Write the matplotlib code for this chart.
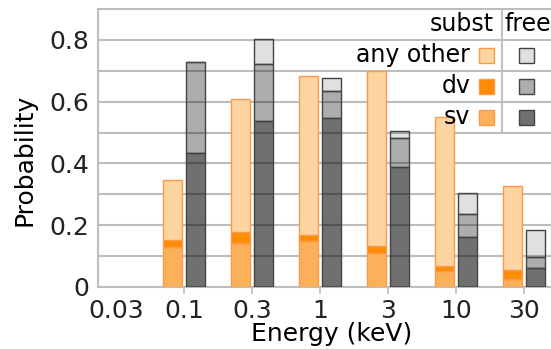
import numpy as np
import matplotlib
matplotlib.use("Agg")
import matplotlib.pyplot as plt
from matplotlib.patches import Rectangle

# energy bins (keV); the first bin has no entries
energy_labels = ["0.03", "0.1", "0.3", "1", "3", "10", "30"]

# substitutional fractions per bin (0.1 ... 30 keV)
subst_sv = [0.128, 0.143, 0.148, 0.109, 0.051, 0.025]
subst_dv = [0.024, 0.034, 0.020, 0.023, 0.018, 0.030]
subst_other = [0.193, 0.431, 0.516, 0.568, 0.480, 0.271]

# free-defect fractions per bin
free_sv = [0.433, 0.536, 0.546, 0.388, 0.161, 0.062]
free_dv = [0.294, 0.185, 0.088, 0.094, 0.074, 0.034]
free_other = [0.0, 0.083, 0.043, 0.023, 0.070, 0.087]

legend_rows = ["any other", "dv", "sv"]

plt.rcParams["font.family"] = "DejaVu Sans"
plt.rcParams["font.size"] = 18

C_OTHER = "#fed4a0"
C_DV = "#ff8c00"
C_SV = "#fdb05a"
C_EDGE_O = "#fd9a4a"
GRID = "#bdbdbd"

fig = plt.figure(figsize=(5.51, 3.49), dpi=100)
ax = fig.add_axes([0.1779, 0.1777, 0.8475, 0.7966])

x = np.arange(1, len(energy_labels))
w = 0.28
off = 0.17

# substitutional stack (left bar of each pair)
bottom = np.zeros(len(x))
for vals, col in [(subst_sv, C_SV), (subst_dv, C_DV), (subst_other, C_OTHER)]:
    ax.bar(x - off, vals, w, bottom=bottom, color=col, edgecolor=C_EDGE_O,
           linewidth=1, zorder=3)
    bottom += np.array(vals)

# free stack (right bar), translucent so the grid shows through
bottom = np.zeros(len(x))
for vals, a in [(free_sv, 0.56), (free_dv, 0.32), (free_other, 0.12)]:
    ax.bar(x + off, vals, w, bottom=bottom, color=(0, 0, 0, a),
           edgecolor="#444444", linewidth=1, zorder=3)
    bottom += np.array(vals)

ax.set_xlim(-0.265, 6.603)
ax.set_ylim(0, 0.9)
ax.set_yticks([0, 0.2, 0.4, 0.6, 0.8])
ax.set_yticklabels(["0", "0.2", "0.4", "0.6", "0.8"], color="#222222")
ax.set_yticks([0.1, 0.3, 0.5, 0.7], minor=True)
ax.yaxis.grid(True, which="both", color=GRID, linewidth=1.5, zorder=0)
ax.set_axisbelow(True)
ax.tick_params(axis="y", which="both", length=0, pad=6)

ax.set_xticks(range(len(energy_labels)))
ax.set_xticklabels(energy_labels, color="#222222")
ax.tick_params(axis="x", length=5, color=GRID, width=1.2, pad=4)
ax.xaxis.get_major_ticks()[0].tick1line.set_visible(False)

for side in ["left", "bottom", "top"]:
    ax.spines[side].set_color(GRID)
    ax.spines[side].set_linewidth(1.5)
ax.spines["right"].set_visible(False)

ax.set_xlabel("Energy (keV)", labelpad=-1)
ax.set_ylabel("Probability")
ax.yaxis.set_label_coords(-0.131, 0.457)

# table-style legend: subst column and free column
x_txt, x_osq, x_vline, x_gsq = 5.21, 5.45, 5.68, 6.03
sq_w, sq_h = 0.22, 0.049
ax.plot([x_vline, x_vline], [0.5, 0.9], color="#c8bebe", lw=1.5, zorder=4,
        clip_on=False)
ax.text(5.55, 0.85, "subst", ha="right", va="center", fontsize=17, zorder=6)
ax.text(5.72, 0.85, "free", ha="left", va="center", fontsize=17, zorder=6)
row_y = [0.75, 0.65, 0.55]
o_cols = [C_OTHER, C_DV, C_SV]
g_alpha = [0.12, 0.32, 0.56]
for lab, yy, oc, ga in zip(legend_rows, row_y, o_cols, g_alpha):
    ax.text(x_txt, yy, lab, ha="right", va="center", fontsize=17, zorder=6)
    ax.add_patch(Rectangle((x_osq - sq_w / 2, yy - sq_h / 2), sq_w, sq_h,
                           facecolor=oc, edgecolor=C_EDGE_O, lw=1, zorder=5))
    ax.add_patch(Rectangle((x_gsq - sq_w / 2, yy - sq_h / 2), sq_w, sq_h,
                           facecolor=(0, 0, 0, ga), edgecolor="#444444", lw=1,
                           zorder=5))

fig.savefig("out.png", dpi=100)
